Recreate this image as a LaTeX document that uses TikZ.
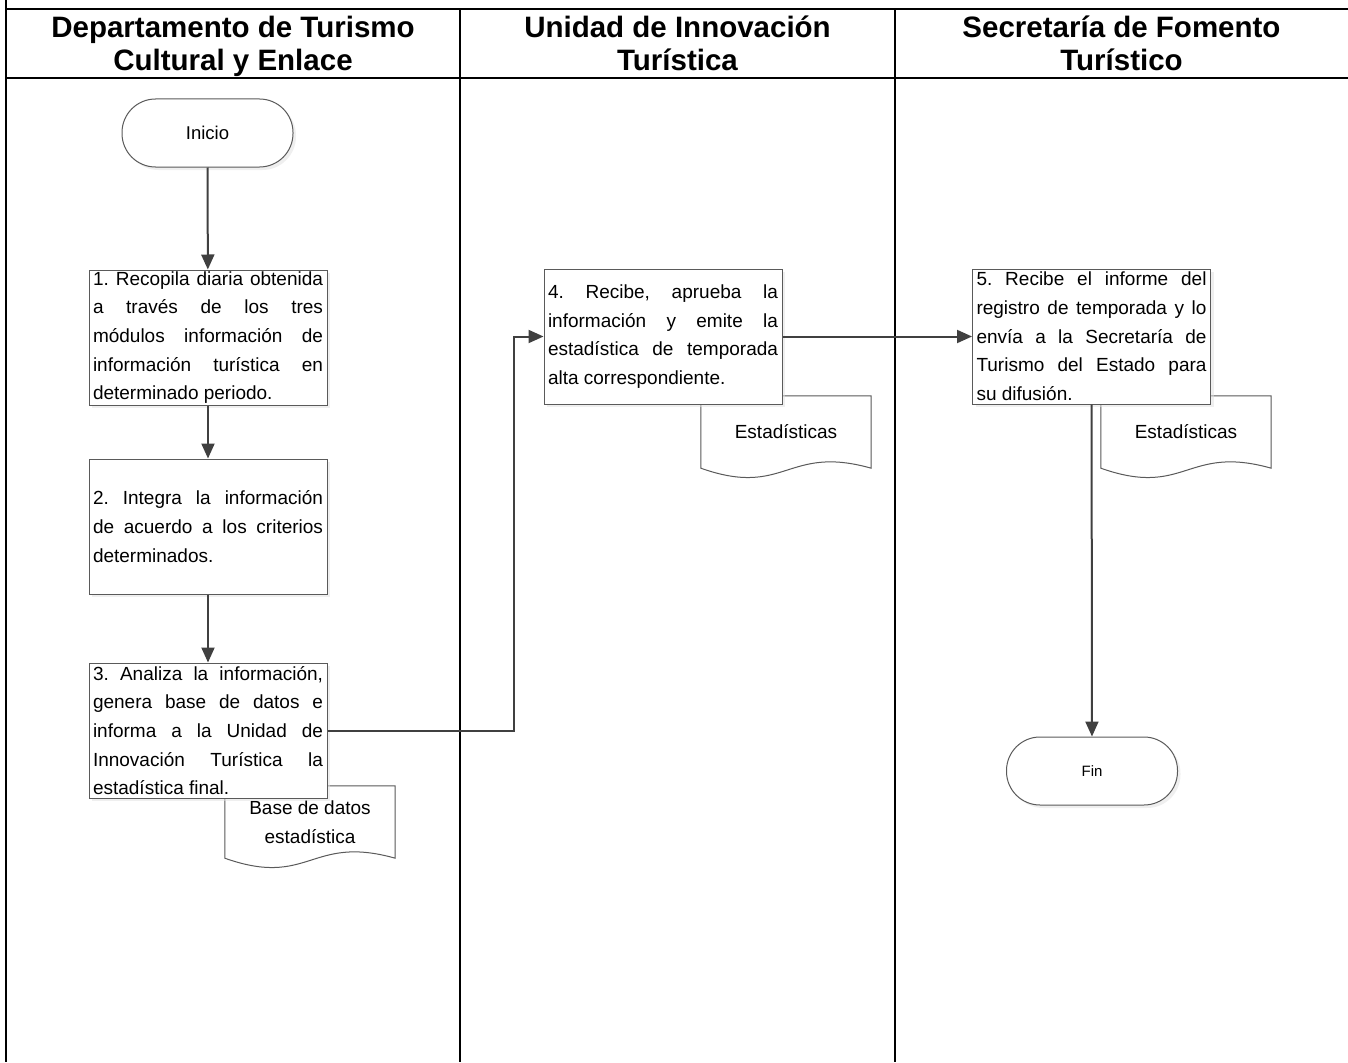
\documentclass[tikz,border=0pt]{standalone}
\usepackage{fontspec}
\setmainfont{Liberation Sans}
\usepackage{xcolor}
\definecolor{shapeline}{HTML}{5A5A5A}
\definecolor{flowline}{HTML}{404040}
\usetikzlibrary{arrows.meta,shadows,backgrounds}
\hbadness=10000
\frenchspacing

% document symbol drawn round a named node
\newcommand{\docshape}[1]{%
  \fill[black!12, xshift=3pt, yshift=-3pt] (#1.north west) -- (#1.south west) .. controls +(85,30) and +(-85,-24) .. (#1.south east) -- (#1.north east) -- cycle;
  \draw[docline] (#1.north west) -- (#1.south west) .. controls +(85,30) and +(-85,-24) .. (#1.south east) -- (#1.north east) -- cycle;
}

\begin{document}
\begin{tikzpicture}[x=1pt, y=-1pt,
      lane/.style={line width=2.4pt, black},
      lanehead/.style={font=\fontsize{29.5}{33}\selectfont\bfseries, align=center},
      shade/.style={drop shadow={shadow xshift=3pt, shadow yshift=-3pt, fill=black!12}},
      term/.style={draw=shapeline, fill=white, line width=1pt, rounded corners=33.5pt, minimum width=171pt, minimum height=68pt, shade},
      proc/.style={draw=shapeline, fill=white, line width=1pt, minimum width=238pt, minimum height=135pt, text width=230pt, inner xsep=4pt, inner ysep=0pt, align=justify, font=\fontsize{19}{28.7}\selectfont, shade},
      doc/.style={minimum width=170pt, minimum height=72pt, align=center, font=\fontsize{19}{29}\selectfont},
      docline/.style={draw=shapeline, fill=white, line width=1pt},
      arr/.style={draw=flowline, line width=2pt, -{Triangle[length=15pt,width=13pt]}}
    ]
    \useasboundingbox (0,0) rectangle (1348,1062);
    % lanes
    \draw[lane] (6,0) -- (6,1062);
    \draw[lane] (6,9) -- (1348,9);
    \draw[lane] (6,78) -- (1348,78);
    \draw[lane] (460,9) -- (460,1062);
    \draw[lane] (895,9) -- (895,1062);
    \node[lanehead] (h1) at (233,47.5)    {\strut Departamento de Turismo\\\strut Cultural y Enlace};
    \node[lanehead] (h2) at (677.5,47.5)  {\strut Unidad de Innovación\\\strut Turística};
    \node[lanehead] (h3) at (1121.5,47.5) {\strut Secretaría de Fomento\\\strut Turístico};
    % documents
    \node[doc] (d1) at (310,822)  {Base de datos\\estadística};
    \node[doc] (d2) at (786,432)  {Estadísticas};
    \node[doc] (d3) at (1186,432) {Estadísticas};
    \begin{scope}[on background layer]
      \docshape{d1}
      \docshape{d2}
      \docshape{d3}
    \end{scope}
    % steps
    \node[term, font=\fontsize{18.5}{22}\selectfont] (ini) at (207.5,133) {Inicio};
    \node[proc] (b1) at (208,337.5) {1. Recopila diaria obtenida\linebreak a través de los tres\linebreak módulos información de\linebreak información turística en\linebreak determinado periodo.};
    \node[proc] (b2) at (208,526.5) {2. Integra la información\linebreak de acuerdo a los criterios\linebreak determinados.};
    \node[proc] (b3) at (208,730.5) {3. Analiza la información,\linebreak genera base de datos e\linebreak informa a la Unidad de\linebreak Innovación Turística la\linebreak estadística final.};
    \node[proc] (b4) at (663,336.5) {4. Recibe, aprueba la\linebreak información y emite la\linebreak estadística de temporada\linebreak alta correspondiente.};
    \node[proc] (b5) at (1091.5,336.5) {5. Recibe el informe del\linebreak registro de temporada y lo\linebreak envía a la Secretaría de\linebreak Turismo del Estado para\linebreak su difusión.};
    \node[term, font=\fontsize{15}{18}\selectfont] (fin) at (1092,771) {Fin};
    % flow
    \foreach \a/\b in {ini/b1,b1/b2,b2/b3,b4/b5,b5/fin} { \draw[arr] (\a) -- (\b); }
    \draw[arr] (b3.east) -- ++(186,0) |- (b4.west);
  \end{tikzpicture}
\end{document}
